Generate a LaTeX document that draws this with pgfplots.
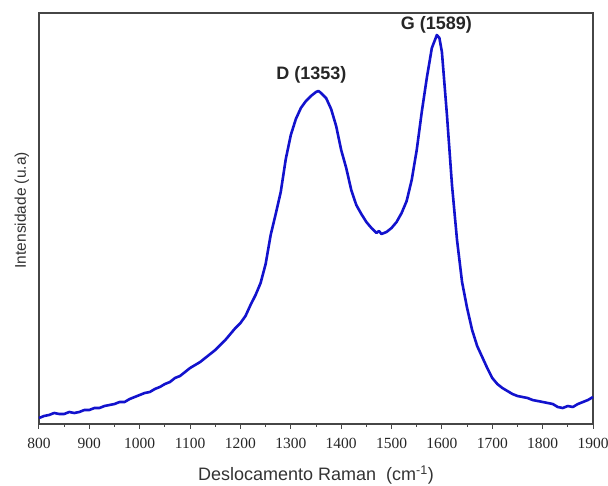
\documentclass[border=0pt]{standalone}
\usepackage{fontspec}
\setmainfont{Liberation Serif}
\newfontfamily\arial{Liberation Sans}
\usepackage{pgfplots}
\pgfplotsset{compat=1.18}
\usepackage{pgfplotstable}
\definecolor{ramanblue}{RGB}{18,18,205}
\definecolor{framegray}{RGB}{70,70,70}
\pgfplotstableread{
x I
800 6
810 8
820 9
830 11
840 10
850 10
860 12
870 11
880 12
890 14
900 14
910 16
920 16
930 18
940 19
950 20
960 22
970 22
980 25
990 27
1000 29
1010 31
1020 32
1030 35
1040 37
1050 40
1060 42
1070 46
1080 48
1090 52
1100 56
1110 59
1120 62
1130 66
1140 70
1150 74
1160 79
1170 84
1180 90
1190 96
1200 101
1210 108
1220 119
1230 129
1240 141
1250 160
1260 189
1270 210
1280 232
1290 265
1300 289
1310 305
1320 316
1330 323
1340 328
1350 332
1355 333
1360 331
1370 326
1380 315
1390 298
1400 274
1410 256
1420 234
1430 219
1440 210
1450 202
1460 196
1470 191
1475 193
1480 190
1490 192
1500 196
1510 202
1520 211
1530 223
1540 244
1550 274
1560 312
1570 346
1580 376
1590 389
1595 386
1600 372
1610 309
1620 239
1630 184
1640 142
1650 116
1660 94
1670 78
1680 67
1690 56
1700 46
1710 40
1720 36
1730 33
1740 30
1750 28
1760 27
1770 26
1780 24
1790 23
1800 22
1810 21
1820 20
1830 17
1840 16
1850 18
1860 17
1870 20
1880 22
1890 24
1900 27
}\raman
\begin{document}
\begin{tikzpicture}
\path[use as bounding box] (-39pt,-62pt) rectangle (569pt,424pt);
\begin{axis}[
  scale only axis,
  width=554pt, height=411pt,
  xmin=800, xmax=1900, ymin=0, ymax=411,
  xtick={800,900,...,1900},
  minor x tick num=1,
  ytick=\empty,
  tick align=outside,
  major tick length=5pt,
  minor tick length=3pt,
  xtick pos=bottom,
  axis line style={framegray, line width=1.1pt},
  every tick/.style={framegray, line width=1pt},
  /pgf/number format/assume math mode=true,
  /pgf/number format/1000 sep={},
  xticklabel style={font=\fontsize{15.5}{17}\selectfont, text=black!85, yshift=-6pt},
  xlabel={Deslocamento Raman\ \ (cm\textsuperscript{-1})},
  xlabel style={font=\arial\fontsize{18}{20}\selectfont, text=black!80, at={(axis description cs:0.5,0)}, anchor=center, yshift=-51pt},
  ylabel={Intensidade (u.a)},
  ylabel style={font=\arial\fontsize{15.5}{18}\selectfont, text=black!80, at={(axis description cs:-0.031,0.52)}, anchor=center},
  clip=false,
]
\addplot[ramanblue, line width=2.6pt, line join=round] table[x=x, y=I] {\raman};
\node[font=\arial\bfseries\fontsize{18}{20}\selectfont, text=black!85] at (axis cs:1341,349) {D (1353)};
\node[font=\arial\bfseries\fontsize{18}{20}\selectfont, text=black!85] at (axis cs:1589,399) {G (1589)};
\end{axis}
\end{tikzpicture}
\end{document}
